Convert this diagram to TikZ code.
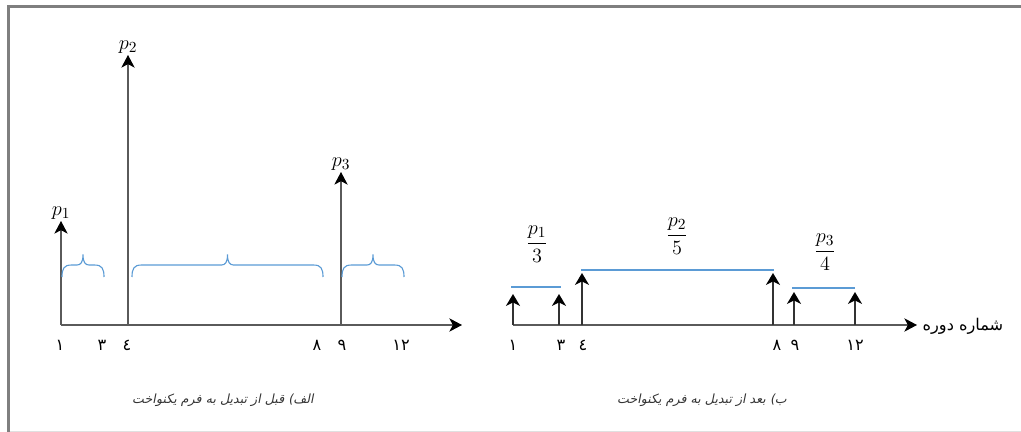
\documentclass[tikz,border=0pt]{standalone}
\usepackage{amsmath}
\usepackage{fontspec}
\usepackage{tikz}
\usetikzlibrary{arrows.meta,positioning,calc}
\TeXXeTstate=1
\newfontfamily\arabicfont[Script=Arabic]{DejaVu Sans}
\newfontfamily\arabicslant[Script=Arabic,FakeSlant=0.2]{DejaVu Sans}
\definecolor{axisgray}{HTML}{5A5A5A}
\definecolor{braceblue}{HTML}{5B9BD5}
\definecolor{framegray}{HTML}{7F7F7F}

\begin{document}
\begin{tikzpicture}[
      x=0.025cm, y=-0.025cm,
      axis/.style = {-{Stealth[length=9pt,width=9.5pt,inset=2.5pt,black]}, line width=0.9pt, axisgray},
      spike/.style = {-{Stealth[length=9pt,width=9.5pt,inset=2.5pt,black]}, line width=0.8pt, axisgray},
      pulse/.style = {-{Stealth[length=8.5pt,width=10pt,inset=2.5pt,black]}, line width=1.1pt, black!80},
      level/.style = {line width=1.5pt, braceblue},
      curly/.style = {braceblue, line width=0.8pt, to path={
        let \p1=(\tikztostart), \p2=(\tikztotarget),
            \p3=($(\tikztostart)!0.5!(\tikztotarget)$) in
        .. controls (\x1,\y1+6pt) and (\x1+1.5pt,\y1+8.5pt) .. (\x1+6.5pt,\y1+8.5pt)
        -- (\x3-4.5pt,\y1+8.5pt)
        .. controls (\x3-1.5pt,\y1+8.5pt) and (\x3,\y1+10.5pt) .. (\x3,\y1+16pt)
        .. controls (\x3,\y1+10.5pt) and (\x3+1.5pt,\y1+8.5pt) .. (\x3+4.5pt,\y1+8.5pt)
        -- (\x2-6.5pt,\y1+8.5pt)
        .. controls (\x2-1.5pt,\y1+8.5pt) and (\x2,\y1+6pt) .. (\p2)}},
      plabel/.style = {font=\fontsize{15}{17}\selectfont, inner sep=1pt},
      tick/.style = {font=\arabicfont\fontsize{11.5}{13}\selectfont, inner sep=1pt},
      caption/.style = {font=\arabicslant\fontsize{9}{11}\selectfont, black!80}
    ]
    \useasboundingbox (0,0) rectangle (1021,432);
    % frame
    \draw[framegray, line width=2.2pt] (8.5,432) -- (8.5,6.5) -- (1021,6.5);
    \draw[black!12, line width=0.7pt] (10,431) -- (1021,431);

    % (a) before
    \coordinate (a1) at (61,325);
    \coordinate (a4) at (128,325);
    \coordinate (a9) at (341,325);
    \coordinate (aE) at (462,325);
    \draw[axis] (a1) -- (aE);
    \node[plabel, anchor=south] (p1) at (61,221) {$p_1$};
    \node[plabel, anchor=south] (p2) at (128,55) {$p_2$};
    \node[plabel, anchor=south] (p3) at (341,172) {$p_3$};
    \draw[spike] (a1) -- (p1);
    \draw[spike] (a4) -- (p2);
    \draw[spike] (a9) -- (p3);
    \coordinate (c1a) at (62,277);  \coordinate (c1b) at (104,277);
    \coordinate (c2a) at (132,277); \coordinate (c2b) at (323,277);
    \coordinate (c3a) at (342,277); \coordinate (c3b) at (404,277);
    \draw[curly] (c1a) to (c1b);
    \draw[curly] (c2a) to (c2b);
    \draw[curly] (c3a) to (c3b);
    \foreach \x/\d in {60/١, 102/٣, 127/٤, 317/٨, 342/٩, 401/١٢}
      \node[tick] (la\x) at (\x,345) {\d};
    \node[caption] (capA) at (223,400) {\beginR الف) قبل از تبدیل به فرم یکنواخت\endR};

    % (b) after
    \coordinate (b1) at (513,325);
    \coordinate (b3) at (559,325);
    \coordinate (b4) at (582,325);
    \coordinate (b8) at (773,325);
    \coordinate (b9) at (794,325);
    \coordinate (b12) at (855,325);
    \coordinate (bE) at (917,325);
    \draw[axis] (b1) -- (bE);
    \node[tick, anchor=west] (period) at (921,326) {\beginR شماره دوره\endR};
    \coordinate (t1) at (513,294);  \coordinate (t3) at (559,294);
    \coordinate (t4) at (582,273);  \coordinate (t8) at (773,273);
    \coordinate (t9) at (794,292);  \coordinate (t12) at (855,292);
    \foreach \s/\t in {b1/t1, b3/t3, b4/t4, b8/t8, b9/t9, b12/t12}
      \draw[pulse] (\s) -- (\t);
    \coordinate (l1a) at (511,287); \coordinate (l1b) at (561,287);
    \coordinate (l2a) at (581,270); \coordinate (l2b) at (774,270);
    \coordinate (l3a) at (792,288); \coordinate (l3b) at (855,288);
    \draw[level] (l1a) -- (l1b);
    \draw[level] (l2a) -- (l2b);
    \draw[level] (l3a) -- (l3b);
    \node[plabel] (f1) at (537,244) {$\genfrac{}{}{1.1pt}{0}{p_1}{3}$};
    \node[plabel] (f2) at (677,236) {$\genfrac{}{}{1.1pt}{0}{p_2}{5}$};
    \node[plabel] (f3) at (825,252) {$\genfrac{}{}{1.1pt}{0}{p_3}{4}$};
    \foreach \x/\d in {513/١, 561/٣, 583/٤, 777/٨, 795/٩, 855/١٢}
      \node[tick] (lb\x) at (\x,345) {\d};
    \node[caption] (capB) at (702,400) {\beginR ب) بعد از تبدیل به فرم یکنواخت\endR};
  \end{tikzpicture}
\end{document}
